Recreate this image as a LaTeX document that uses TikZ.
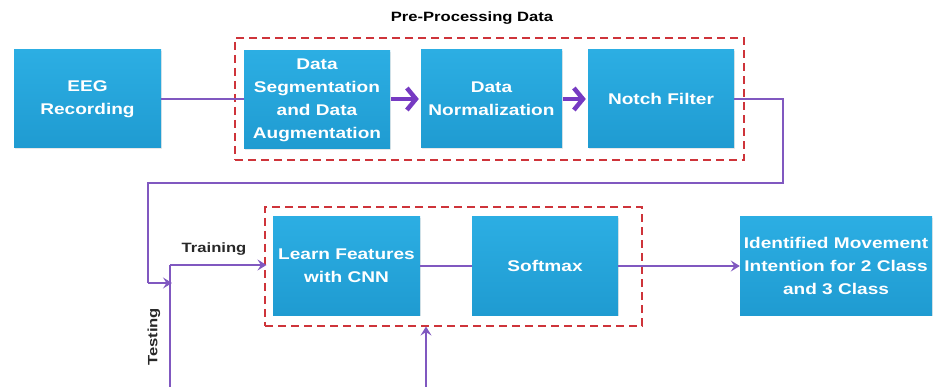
\documentclass[tikz,border=0pt]{standalone}
\usepackage{fontspec}
\setmainfont{Liberation Sans}
\newfontfamily\boxfont[FakeStretch=1.23]{Liberation Sans}
\usetikzlibrary{arrows.meta,shadows}
\definecolor{boxtop}{RGB}{44,174,227}
\definecolor{boxbot}{RGB}{31,155,209}
\definecolor{flow}{RGB}{128,88,192}
\definecolor{flowdark}{RGB}{118,58,194}
\definecolor{grpred}{RGB}{206,52,58}
\definecolor{lbl}{RGB}{40,40,40}
\tikzset{
  stage/.style={rectangle, top color=boxtop, bottom color=boxbot, draw=none,
    minimum height=98pt, text=white, align=center, inner sep=2pt,
    font=\boxfont\bfseries\fontsize{15.5}{23}\selectfont,
    drop shadow={opacity=0.18, shadow xshift=1pt, shadow yshift=-1.2pt}},
  group/.style={rectangle, draw=grpred, line width=1.1pt,
    dash pattern=on 8pt off 5pt, fill=none},
  link/.style={draw=flow, line width=1.2pt},
  thinarrow/.style={link, -{Stealth[length=9pt, width=11pt, inset=3.5pt]}},
  thickarrow/.style={draw=flowdark, line width=4.5pt,
    -{Straight Barb[length=9pt, width=22pt]}},
  caption/.style={font=\boxfont\bfseries\fontsize{13.5}{16}\selectfont, text=lbl}
}
\begin{document}
\begin{tikzpicture}[x=1pt, y=-1pt]
\useasboundingbox (0,0) rectangle (934,387);

% dashed group frames
\node[group, minimum width=509pt, minimum height=122pt] (pre) at (489.5,99) {};
\node[group, minimum width=377pt, minimum height=119pt] (cls) at (453.5,266.5) {};
\node[caption, text=black] (pretitle) at (472,18) {Pre-Processing Data};

% processing stages
\node[stage, minimum width=147pt] (eeg) at (87.5,99) {EEG\\Recording};
\node[stage, minimum width=146pt] (seg) at (317,100) {Data\\Segmentation\\and Data\\Augmentation};
\node[stage, minimum width=141pt] (norm) at (491.5,99) {Data\\Normalization};
\node[stage, minimum width=146pt] (notch) at (661,99) {Notch Filter};
\node[stage, minimum width=147pt] (learn) at (346.5,266) {Learn Features\\with CNN};
\node[stage, minimum width=146pt] (soft) at (545,266) {Softmax};
\node[stage, minimum width=192pt] (ident) at (836,266) {Identified Movement\\Intention for 2 Class\\and 3 Class};

% route points
\coordinate (r1) at (783,99);
\coordinate (r2) at (783,183);
\coordinate (r3) at (148,183);
\coordinate (r4) at (148,283);
\coordinate (split) at (170,283);
\coordinate (trainknee) at (170,265);
\coordinate (testin) at (170,387);
\coordinate (featin) at (426,387);

% connectors
\draw[link] (eeg.east) -- (seg.west |- eeg.east);
\draw[thickarrow] (seg.east |- norm.west) ++(1pt,0) -- ([xshift=-2pt]norm.west);
\draw[thickarrow] (norm.east) ++(1pt,0) -- ([xshift=-2pt]notch.west);
\draw[link] (notch.east) -- (r1) -- (r2) -- (r3) -- (r4);
\draw[thinarrow] (r4) -- ([xshift=2pt]split);
\draw[link] (testin) -- (trainknee);
\draw[thinarrow] (trainknee) -- ([xshift=2pt]cls.west |- trainknee);
\draw[link] (learn.east) -- (soft.west);
\draw[thinarrow] (soft.east) -- (ident.west);
\draw[thinarrow] (featin) -- (featin |- cls.south);

% branch labels
\node[caption] (trainlbl) at (214,249) {Training};
\node[caption, rotate=90] (testlbl) at (154,337) {Testing};
\end{tikzpicture}
\end{document}
